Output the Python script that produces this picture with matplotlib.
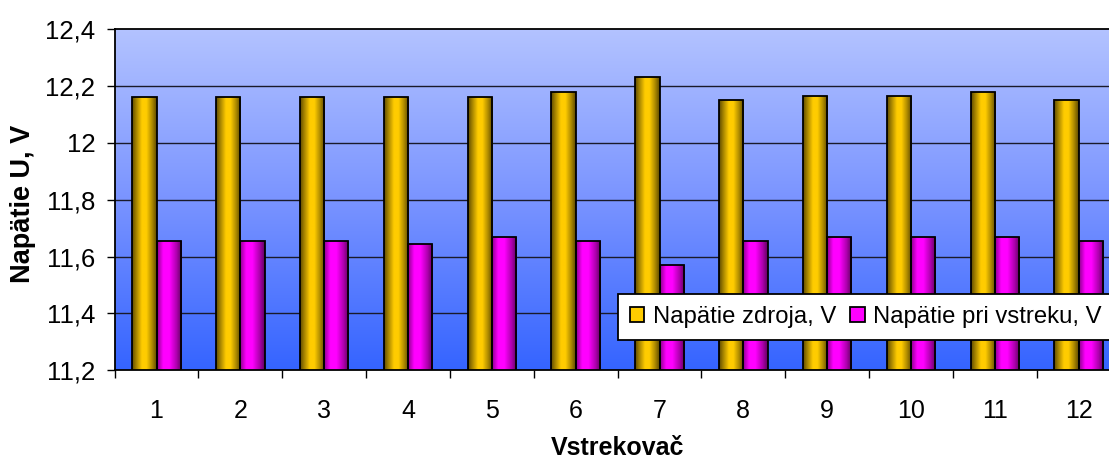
import numpy as np
import matplotlib
matplotlib.use("Agg")
import matplotlib.pyplot as plt
from matplotlib.colors import LinearSegmentedColormap
from matplotlib.patches import Patch

plt.rcParams['font.family'] = ['Liberation Sans', 'DejaVu Sans']

categories = ['1', '2', '3', '4', '5', '6', '7', '8', '9', '10', '11', '12']
supply_voltage = [12.16, 12.16, 12.16, 12.16, 12.16, 12.18, 12.23, 12.15, 12.165, 12.165, 12.18, 12.15]
injection_voltage = [11.655, 11.655, 11.655, 11.645, 11.67, 11.655, 11.57, 11.655, 11.67, 11.67, 11.67, 11.655]
series_names = ['Napätie zdroja, V', 'Napätie pri vstreku, V']
y_ticks = [11.2, 11.4, 11.6, 11.8, 12.0, 12.2, 12.4]
y_tick_labels = ['11,2', '11,4', '11,6', '11,8', '12', '12,2', '12,4']
x_label = 'Vstrekovač'
y_label = 'Napätie U, V'

W, H = 1109, 459
fig = plt.figure(figsize=(W / 100, H / 100), dpi=100)
ax = fig.add_axes([114.6 / W, (H - 370.3) / H, 1006 / W, 341.3 / H])

x = np.arange(1, len(categories) + 1)
bw = 0.29
ax.set_xlim(0.5, len(categories) + 0.5)
ax.set_ylim(y_ticks[0], y_ticks[-1])

# background gradient
bg = LinearSegmentedColormap.from_list('bg', ['#3564FF', '#7A94FF', '#B3C3FF'])
grad = np.linspace(0, 1, 256).reshape(-1, 1)
ax.imshow(grad, cmap=bg, origin='lower', aspect='auto',
          extent=[0, 1, 0, 1], transform=ax.transAxes, zorder=0)

for yt in y_ticks[1:-1]:
    ax.axhline(yt, color='#1a1a2a', lw=1.0, zorder=1)

yellow_cm = LinearSegmentedColormap.from_list(
    'yel', [(0, '#5E4A00'), (0.18, '#A88600'), (0.4, '#FFCC00'), (0.58, '#FFCC00'),
            (0.8, '#B08C00'), (1, '#5A4700')])
mag_cm = LinearSegmentedColormap.from_list(
    'mag', [(0, '#8A008A'), (0.25, '#FF00FF'), (0.5, '#FF00FF'),
            (0.78, '#B000B0'), (1, '#5E005E')])
hgrad = np.linspace(0, 1, 256).reshape(1, -1)

b1 = ax.bar(x - bw / 2, supply_voltage, bw, bottom=0, color='#FFCC00', zorder=2,
            label=series_names[0], edgecolor='black', linewidth=1.3)
b2 = ax.bar(x + bw / 2, injection_voltage, bw, bottom=0, color='#FF00FF', zorder=2,
            label=series_names[1], edgecolor='black', linewidth=1.3)

for bars, cm in ((b1, yellow_cm), (b2, mag_cm)):
    for p in bars:
        x0, w_, h_ = p.get_x(), p.get_width(), p.get_height()
        im = ax.imshow(hgrad, cmap=cm, aspect='auto', origin='lower',
                       extent=[x0, x0 + w_, y_ticks[0], h_], zorder=2.5)
        im.set_clip_path(p)
        p.set_facecolor('none')
        p.set_zorder(3)

ax.set_xlim(0.5, len(categories) + 0.5)
ax.set_ylim(y_ticks[0], y_ticks[-1])

ax.set_yticks(y_ticks)
ax.set_yticklabels(y_tick_labels, fontsize=18.5)
ax.tick_params(axis='y', direction='out', length=6, width=1, pad=8)

ax.set_xticks(x)
ax.set_xticklabels(categories, fontsize=18)
ax.set_xticks(np.arange(0.5, len(categories) + 1), minor=True)
ax.tick_params(axis='x', which='major', length=0, pad=21)
ax.tick_params(axis='x', which='minor', direction='out', length=6, width=1)

for s in ax.spines.values():
    s.set_color('black')
    s.set_linewidth(1.3)

ax.set_xlabel(x_label, fontsize=18, fontweight='bold')
ax.set_ylabel(y_label, fontsize=19.5, fontweight='bold')
ax.xaxis.set_label_coords(0.5, (370.3 - 448) / 341.3, transform=ax.transAxes)
ax.yaxis.set_label_coords((23 - 114.6) / 1006, (370.3 - 203.5) / 341.3, transform=ax.transAxes)
ax.xaxis.label.set_va('center')
ax.yaxis.label.set_va('center')

handles = [Patch(facecolor='#FFCC00', edgecolor='black', linewidth=1.3),
           Patch(facecolor='#FF00FF', edgecolor='black', linewidth=1.3)]
leg = fig.legend(handles, series_names, loc='upper left',
                 bbox_to_anchor=(618 / W, (H - 294) / H), ncol=2, fontsize=17.2,
                 frameon=True, fancybox=False, framealpha=1, edgecolor='black',
                 facecolor='white', handlelength=0.6, handleheight=0.6,
                 handletextpad=0.35, columnspacing=0.6, borderpad=0.5,
                 borderaxespad=0)
leg.get_frame().set_linewidth(1.3)

fig.savefig('out.png', dpi=100)
